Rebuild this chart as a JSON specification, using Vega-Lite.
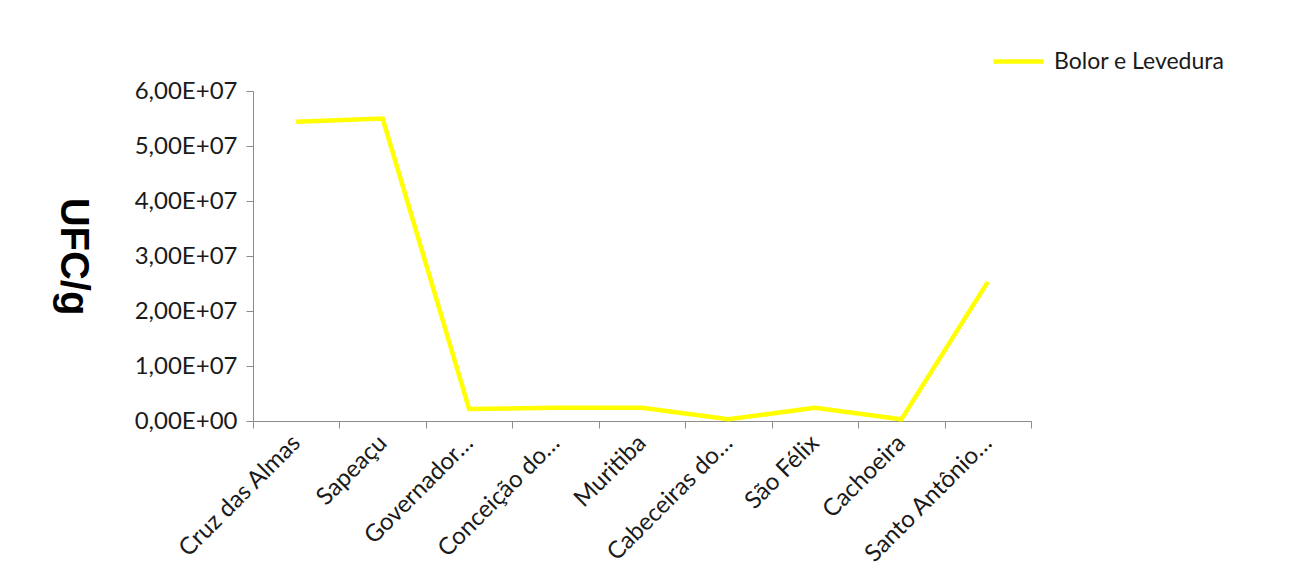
{
  "$schema": "https://vega.github.io/schema/vega-lite/v6.json",
  "autosize": {"type": "none"},
  "padding": {"left": 253, "top": 91, "right": 269, "bottom": 159},
  "width": 778,
  "height": 330,
  "background": "white",
  "config": {"view": {"stroke": null}, "font": "Lato"},
  "data": {
    "values": [
      {"municipio": "Cruz das Almas", "ufc": 54400000, "serie": "Bolor e Levedura"},
      {"municipio": "Sapeaçu", "ufc": 55000000, "serie": "Bolor e Levedura"},
      {"municipio": "Governador…", "ufc": 2200000, "serie": "Bolor e Levedura"},
      {"municipio": "Conceição do…", "ufc": 2400000, "serie": "Bolor e Levedura"},
      {"municipio": "Muritiba", "ufc": 2400000, "serie": "Bolor e Levedura"},
      {"municipio": "Cabeceiras do…", "ufc": 300000, "serie": "Bolor e Levedura"},
      {"municipio": "São Félix", "ufc": 2400000, "serie": "Bolor e Levedura"},
      {"municipio": "Cachoeira", "ufc": 300000, "serie": "Bolor e Levedura"},
      {"municipio": "Santo Antônio…", "ufc": 25300000, "serie": "Bolor e Levedura"}
    ]
  },
  "mark": {"type": "line", "strokeWidth": 4.5, "strokeJoin": "miter"},
  "encoding": {
    "x": {
      "field": "municipio",
      "type": "nominal",
      "sort": null,
      "bandPosition": 0.5,
      "scale": {"type": "band", "paddingInner": 0, "paddingOuter": 0},
      "axis": {
        "title": null,
        "tickBand": "extent",
        "domainColor": "#8c8c8c",
        "tickColor": "#8c8c8c",
        "tickSize": 7,
        "labelAngle": -45,
        "labelAlign": "right",
        "labelBaseline": "middle",
        "labelFontSize": 24,
        "labelColor": "#1a1a1a",
        "labelPadding": 11,
        "labelOverlap": false,
        "labelLimit": 300
      }
    },
    "y": {
      "field": "ufc",
      "type": "quantitative",
      "scale": {"domain": [0, 60000000], "nice": false},
      "axis": {
        "title": "UFC/g",
        "titleFont": "Liberation Sans",
        "titleFontSize": 40,
        "titleFontWeight": "bold",
        "titleColor": "#000000",
        "titleAngle": 90,
        "titleX": -181,
        "titleY": 165,
        "titleAlign": "center",
        "titleBaseline": "middle",
        "values": [0, 10000000, 20000000, 30000000, 40000000, 50000000, 60000000],
        "labelExpr": "datum.value == 0 ? '0,00E+00' : replace(format(datum.value / 10000000, '.2f'), '.', ',') + 'E+07'",
        "grid": false,
        "domainColor": "#8c8c8c",
        "tickColor": "#8c8c8c",
        "tickSize": 7,
        "labelFontSize": 24,
        "labelColor": "#1a1a1a",
        "labelPadding": 9
      }
    },
    "color": {
      "field": "serie",
      "type": "nominal",
      "scale": {"range": ["#FFFF00"]},
      "legend": {
        "title": null,
        "orient": "none",
        "legendX": 738,
        "legendY": -57,
        "symbolType": "stroke",
        "symbolSize": 2500,
        "symbolStrokeWidth": 4.5,
        "labelFontSize": 23,
        "labelLimit": 400,
        "labelColor": "#1a1a1a",
        "labelOffset": 8
      }
    }
  }
}
